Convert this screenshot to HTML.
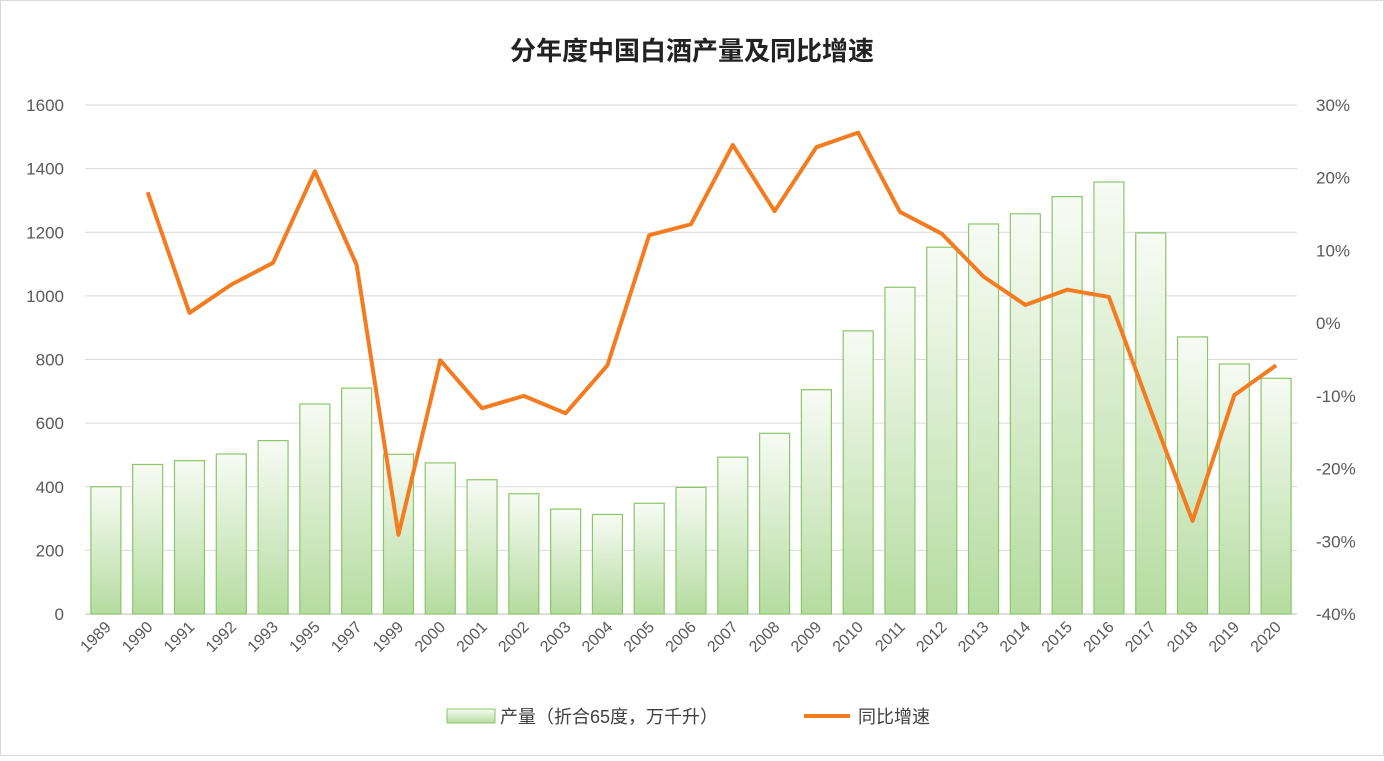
<!DOCTYPE html>
<html><head><meta charset="utf-8"><style>
body{margin:0;background:#fff;}
svg text{font-family:"Liberation Sans","Noto Sans CJK SC",sans-serif;}
</style></head><body>
<svg width="1384" height="756" xmlns="http://www.w3.org/2000/svg">
<defs><linearGradient id="g" x1="0" y1="0" x2="0" y2="1"><stop offset="0" stop-color="#f7fbf4"/><stop offset="1" stop-color="#b5dca0"/></linearGradient></defs>
<rect x="0.5" y="0.5" width="1383" height="755" fill="#fff" stroke="#d9d9d9"/>
<text x="692" y="60" text-anchor="middle" font-size="26" font-weight="bold" fill="#222">分年度中国白酒产量及同比增速</text>
<g id="grid"></g><g id="bars"></g><g id="line"></g><g id="axes"></g>
<g>
<rect x="447" y="709" width="48" height="14" fill="url(#g)" stroke="#8cc56a"/>
<text x="500" y="723" font-size="18" fill="#404040">产量（折合65度，万千升）</text>
<line x1="804" y1="716" x2="850" y2="716" stroke="#f47c20" stroke-width="4"/>
<text x="858" y="723" font-size="18" fill="#404040">同比增速</text>
</g>
</svg>
<script>
const years=["1989","1990","1991","1992","1993","1995","1997","1999","2000","2001","2002","2003","2004","2005","2006","2007","2008","2009","2010","2011","2012","2013","2014","2015","2016","2017","2018","2019","2020"];
const output=[400,470,482,503,545,660,710,502,475,422,378,330,313,348,398,493,568,705,890,1027,1153,1226,1258,1312,1358,1198,871,786,741];
const growth=[null,18.0,1.4,5.3,8.3,20.9,8.0,-29.1,-5.1,-11.7,-10.0,-12.4,-5.8,12.1,13.6,24.5,15.4,24.2,26.2,15.3,12.3,6.4,2.5,4.6,3.6,-12.0,-27.2,-9.9,-5.8];
const leftTicks=[0,200,400,600,800,1000,1200,1400,1600];
const rightTicks=[-40,-30,-20,-10,0,10,20,30];
const NS="http://www.w3.org/2000/svg";
const y0=614,yTop=105,xL=85,xR=1297;
const yL=v=>y0-(v/1600)*(y0-yTop);
const yR=p=>y0-((p+40)/70)*(y0-yTop);
const step=(xR-xL)/years.length;
const xC=i=>xL+step*(i+0.5);
function mk(t,a,p){const e=document.createElementNS(NS,t);for(const k in a)e.setAttribute(k,a[k]);p.appendChild(e);return e;}
const grid=document.getElementById('grid'),bars=document.getElementById('bars'),line=document.getElementById('line'),axes=document.getElementById('axes');
leftTicks.forEach(v=>{
 const l=mk('line',{x1:xL,x2:xR,y1:yL(v),y2:yL(v),stroke:v===0?'#bfbfbf':'#d9d9d9','stroke-width':1},grid);
 
 
 const t=mk('text',{x:64,y:yL(v)+6,'text-anchor':'end','font-size':17,fill:'#595959'},axes);t.textContent=v;
 
 
});
rightTicks.forEach(p=>{
 const t=mk('text',{x:1316,y:yR(p)+6,'font-size':17,fill:'#595959'},axes);t.textContent=p+'%';
 
 
});
years.forEach((yr,i)=>{
 const b=mk('rect',{x:xC(i)-15,y:yL(output[i]),width:30,height:y0-yL(output[i]),fill:'url(#g)',stroke:'#8cc56a','stroke-width':1.2},bars);
 
 
 const t=mk('text',{x:xC(i)+6,y:628,'text-anchor':'end','font-size':16,fill:'#595959',transform:`rotate(-45 ${xC(i)+6} 628)`},axes);t.textContent=yr;
 
 
});
let d='';growth.forEach((g,i)=>{if(g===null)return;d+=(d?'L':'M')+xC(i)+','+yR(g);});
const pl=mk('path',{d:d,fill:'none',stroke:'#f47c20','stroke-width':4,'stroke-linejoin':'round'},line);


</script>
</body></html>
